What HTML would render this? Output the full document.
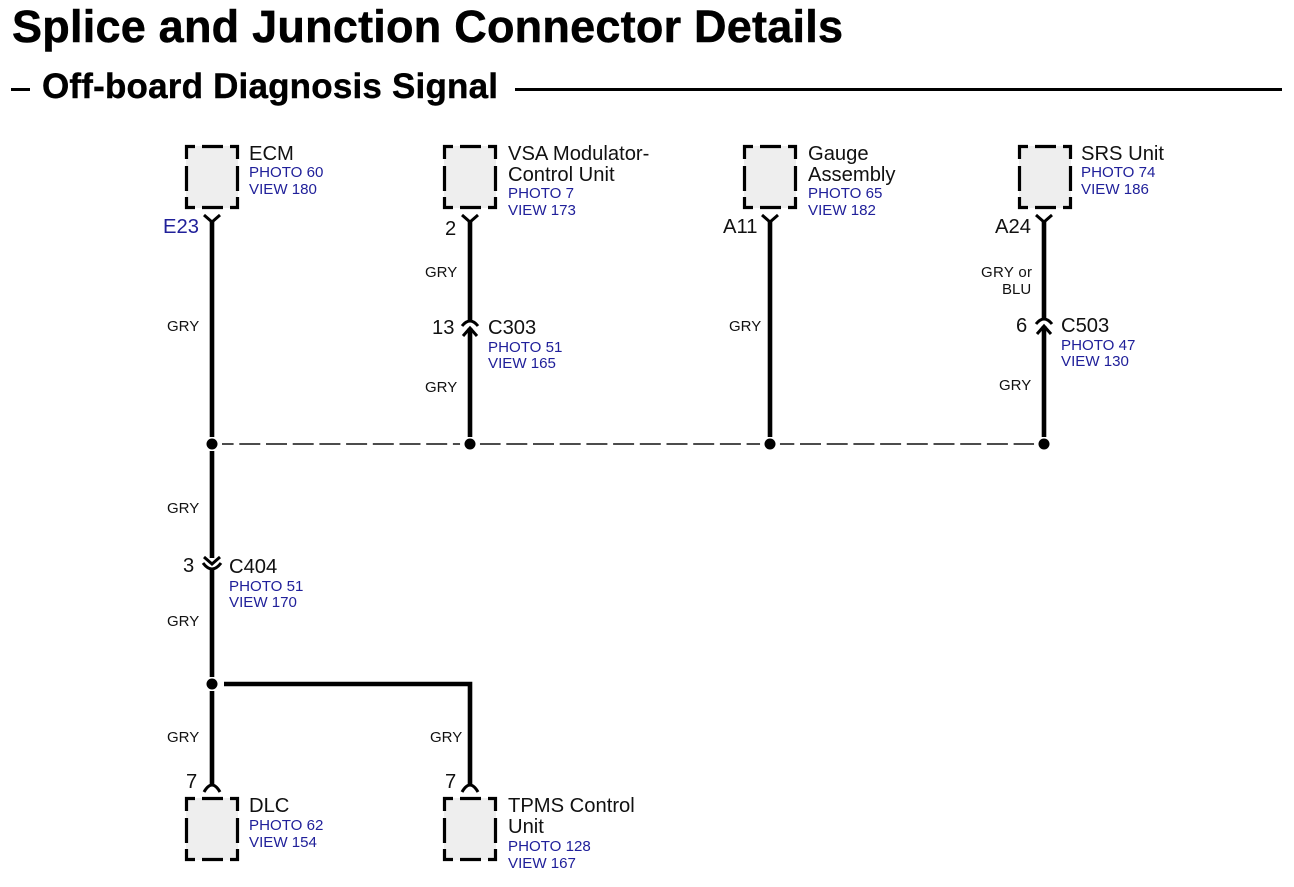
<!DOCTYPE html>
<html><head><meta charset="utf-8"><style>
html,body{margin:0;padding:0;background:#fff}
svg{display:block}
text{font-family:"Liberation Sans",sans-serif}
.b{font-size:20.2px;fill:#111}
.p{font-size:15.1px;fill:#20209a}
.g{font-size:15px;fill:#111}
.w{stroke:#000;stroke-width:4.6;fill:none}
.f{stroke:#000;stroke-width:3;fill:none}
</style></head><body>
<svg width="1294" height="887" viewBox="0 0 1294 887" xmlns="http://www.w3.org/2000/svg">
<defs>
<g id="box">
<rect x="1" y="1" width="52" height="62" fill="#eeeeee"/>
<path d="M1.5,14V1.5H10M17,1.5H38M45,1.5H52.5V14M1.5,21V46M52.5,21V46M1.5,52V62.5H10M17,62.5H38M45,62.5H52.5V52" fill="none" stroke="#000" stroke-width="3.2"/>
</g>
</defs>
<text x="12" y="42" font-size="45" font-weight="700" fill="#000" stroke="#000" stroke-width="0.5" textLength="831" lengthAdjust="spacing">Splice and Junction Connector Details</text>
<rect x="11" y="88" width="19" height="3" fill="#000"/>
<text x="42" y="98" font-size="35" font-weight="700" fill="#000" stroke="#000" stroke-width="0.4" textLength="456" lengthAdjust="spacing">Off-board Diagnosis Signal</text>
<rect x="515" y="88" width="767" height="3" fill="#000"/>

<line x1="222" y1="444" x2="1040" y2="444" stroke="#111" stroke-width="1.4" stroke-dasharray="21,5.7" stroke-dashoffset="9.4"/>

<use href="#box" x="185" y="145"/>
<use href="#box" x="443" y="145"/>
<use href="#box" x="743" y="145"/>
<use href="#box" x="1018" y="145"/>
<use href="#box" x="185" y="797"/>
<use href="#box" x="443" y="797"/>

<g fill="#fff">
<circle cx="470" cy="444" r="10"/><circle cx="770" cy="444" r="10"/><circle cx="1044" cy="444" r="10"/>
</g>

<path class="w" d="M212,221V437M470,221V320M470,328V437M770,221V437M1044,221V318M1044,326V437M212,451V558M212,568V677M212,691V786M224,684H470V786"/>

<path class="f" d="M204,215L212,222L220,215M462,215L470,222L478,215M762,215L770,222L778,215M1036,215L1044,222L1052,215"/>
<path class="f" d="M204,792Q212,778 220,792M462,792Q470,778 478,792"/>

<path class="f" d="M462,326Q470,316 478,326M463,336L470,328L477,336"/>
<path class="f" d="M1036,324Q1044,314 1052,324M1037,334L1044,326L1051,334"/>
<path class="f" d="M204,557L212,564L220,557M203,563Q212,575 221,563"/>

<g fill="#000">
<circle cx="212" cy="444" r="5.5"/><circle cx="470" cy="444" r="5.5"/><circle cx="770" cy="444" r="5.5"/><circle cx="1044" cy="444" r="5.5"/><circle cx="212" cy="684" r="5.5"/>
</g>

<text class="b" x="249" y="160">ECM</text>
<text class="p" x="249" y="177">PHOTO 60</text>
<text class="p" x="249" y="194">VIEW 180</text>
<text x="163" y="233" font-size="20.2" fill="#20209a">E23</text>
<text class="g" x="167" y="331">GRY</text>

<text class="b" x="508" y="160">VSA Modulator-</text>
<text class="b" x="508" y="181">Control Unit</text>
<text class="p" x="508" y="198">PHOTO 7</text>
<text class="p" x="508" y="215">VIEW 173</text>
<text class="b" x="445" y="235">2</text>
<text class="g" x="425" y="277">GRY</text>
<text class="b" x="432" y="334">13</text>
<text class="b" x="488" y="334">C303</text>
<text class="p" x="488" y="352">PHOTO 51</text>
<text class="p" x="488" y="368">VIEW 165</text>
<text class="g" x="425" y="392">GRY</text>

<text class="b" x="808" y="160">Gauge</text>
<text class="b" x="808" y="181">Assembly</text>
<text class="p" x="808" y="198">PHOTO 65</text>
<text class="p" x="808" y="215">VIEW 182</text>
<text class="b" x="723" y="233">A11</text>
<text class="g" x="729" y="331">GRY</text>

<text class="b" x="1081" y="160">SRS Unit</text>
<text class="p" x="1081" y="177">PHOTO 74</text>
<text class="p" x="1081" y="194">VIEW 186</text>
<text class="b" x="995" y="233">A24</text>
<text class="g" x="981" y="277" textLength="51">GRY or</text>
<text class="g" x="1002" y="294">BLU</text>
<text class="b" x="1016" y="332">6</text>
<text class="b" x="1061" y="332">C503</text>
<text class="p" x="1061" y="350">PHOTO 47</text>
<text class="p" x="1061" y="366">VIEW 130</text>
<text class="g" x="999" y="390">GRY</text>

<text class="g" x="167" y="513">GRY</text>
<text class="b" x="183" y="572">3</text>
<text class="b" x="229" y="573">C404</text>
<text class="p" x="229" y="591">PHOTO 51</text>
<text class="p" x="229" y="607">VIEW 170</text>
<text class="g" x="167" y="626">GRY</text>

<text class="g" x="167" y="742">GRY</text>
<text class="g" x="430" y="742">GRY</text>
<text class="b" x="186" y="788">7</text>
<text class="b" x="445" y="788">7</text>

<text class="b" x="249" y="812">DLC</text>
<text class="p" x="249" y="830">PHOTO 62</text>
<text class="p" x="249" y="847">VIEW 154</text>

<text class="b" x="508" y="812">TPMS Control</text>
<text class="b" x="508" y="833">Unit</text>
<text class="p" x="508" y="851">PHOTO 128</text>
<text class="p" x="508" y="868">VIEW 167</text>
</svg>
</body></html>
